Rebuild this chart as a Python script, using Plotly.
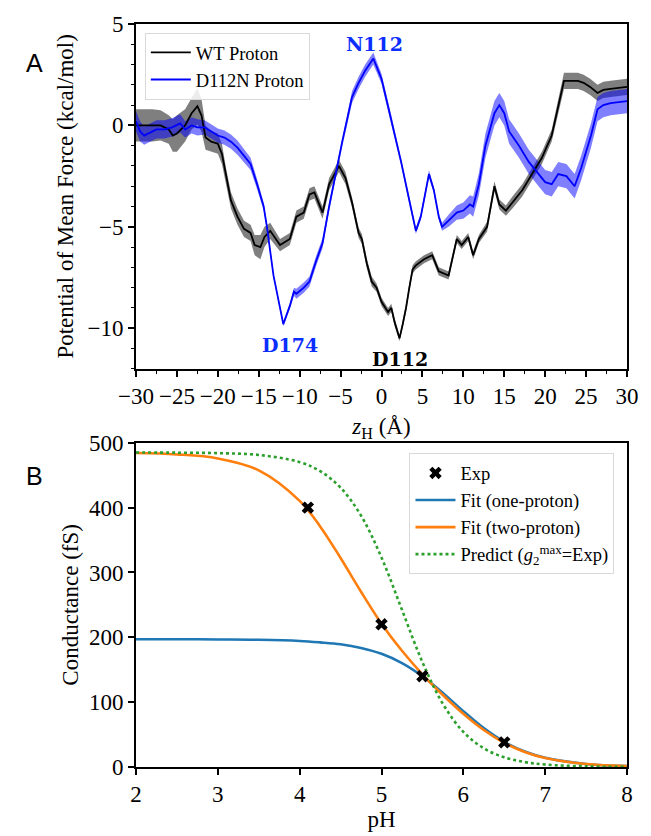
import plotly.graph_objects as go
from plotly.subplots import make_subplots

# ---------------- Panel A data ----------------
wt_z = [-30, -29, -28, -27, -26, -25.5, -25, -24, -23.2, -22.5, -22, -21.5, -20.8, -20, -19.5, -19,
        -18.4, -17.6, -16.8, -16.0, -15.5, -14.8, -14.3, -13.6, -12.4, -11.2, -10.4, -9.5, -8.8, -8.2,
        -7.2, -6.4, -5.2, -4.4, -3.6, -2.8, -2.4, -1.8, -1.2, -0.6, 0, 0.8, 1.2, 1.6, 2.2, 2.6, 3.0,
        3.4, 3.8, 4.2, 5.2, 6.2, 7.0, 8.2, 9.2, 9.8, 10.6, 11.2, 11.9, 12.9, 13.8, 14.4, 15.2, 16.0,
        17.2, 18.4, 19.6, 20.8, 21.6, 22.3, 23.1, 24.0, 24.7, 25.5, 26.4, 27.1, 28.0, 29.0, 30.0]
wt_pmf = [0.0, 0.0, 0.0, 0.0, -0.2, -0.5, -0.4, 0.0, 0.6, 0.95, 0.5, -0.6, -0.8, -0.9, -1.4, -2.5,
          -3.7, -4.5, -5.1, -5.3, -5.9, -6.0, -5.5, -5.2, -5.9, -5.6, -4.5, -4.3, -3.4, -3.3,
          -4.3, -2.9, -2.0, -2.6, -3.8, -5.3, -5.6, -6.8, -7.7, -8.0, -8.7, -9.2, -9.0, -9.7, -10.5, -9.8, -9.0,
          -8.0, -7.1, -6.9, -6.6, -6.4, -7.2, -7.4, -5.6, -5.9, -5.5, -6.4, -5.6, -5.0, -3.0, -3.9, -4.2, -3.8,
          -3.2, -2.4, -1.6, -0.5, 1.0, 2.2, 2.2, 2.2, 2.1, 1.9, 1.6, 1.75, 1.8, 1.85, 1.9]
wt_err = [0.8, 0.8, 0.8, 0.75, 0.7, 0.8, 0.9, 0.8, 0.8, 0.9, 0.8, 0.6, 0.5, 0.5, 0.5, 0.4,
          0.4, 0.4, 0.4, 0.4, 0.5, 0.6, 0.5, 0.4, 0.3, 0.3, 0.3, 0.3, 0.3, 0.3,
          0.3, 0.3, 0.3, 0.3, 0.25, 0.25, 0.25, 0.25, 0.25, 0.2, 0.2, 0.2, 0.2, 0.2, 0.15, 0.15, 0.2,
          0.2, 0.2, 0.2, 0.2, 0.2, 0.2, 0.2, 0.2, 0.2, 0.2, 0.2, 0.2, 0.25, 0.25, 0.25, 0.25, 0.3,
          0.3, 0.3, 0.3, 0.3, 0.35, 0.4, 0.4, 0.4, 0.4, 0.4, 0.4, 0.4, 0.4, 0.4, 0.4]

mut_z = [-30, -29.5, -29, -28, -27.5, -26.5, -25.6, -24.6, -24, -23.2, -22.5, -21.6, -20.8, -20, -19.2,
         -18.4, -17.6, -16.8, -16, -15.2, -14.4, -14, -13.2, -12.0, -11.2, -10.7, -10.4, -9.5, -8.8,
         -8.0, -7.2, -6.4, -5.6, -4.8, -3.6, -2.8, -2.0, -1.0, 0, 1.2, 2.4, 3.4, 4.2, 4.8, 5.8, 6.4,
         7.0, 7.4, 8.2, 9.2, 10.0, 10.8, 11.2, 11.9, 12.7, 13.8, 14.4, 15.0, 15.6, 16.8, 18, 19.2, 20,
         20.8, 21.6, 22.6, 23.6, 24.4, 25.6, 26.4, 27.1, 28.0, 29.0, 30.0]
mut_pmf = [0.2, -0.3, -0.5, -0.3, -0.2, -0.2, -0.1, 0.1, -0.2, 0.0, -0.1, -0.1, -0.3, -0.5, -0.6,
           -0.8, -1.1, -1.5, -1.9, -2.9, -4.0, -5.0, -7.4, -9.8, -8.9, -8.2, -8.3, -8.0, -7.7,
           -6.7, -5.8, -4.0, -2.4, -0.8, 1.4, 2.1, 2.7, 3.3, 2.3, 0.3, -1.8, -3.7, -5.2, -4.5, -2.4, -3.2,
           -4.5, -5.0, -4.7, -4.3, -4.2, -3.9, -4.0, -2.9, -1.0, 0.6, 1.0, 0.6, -0.3, -1.0, -1.8, -2.4, -2.8,
           -2.9, -2.4, -2.5, -3.0, -2.1, -0.5, 0.8, 1.0, 1.1, 1.15, 1.2]
mut_err = [0.5, 0.5, 0.45, 0.45, 0.45, 0.45, 0.45, 0.45, 0.4, 0.4, 0.4, 0.35, 0.35, 0.35, 0.35,
           0.35, 0.35, 0.3, 0.3, 0.25, 0.2, 0.15, 0.1, 0.1, 0.15, 0.2, 0.25, 0.25, 0.25,
           0.25, 0.25, 0.2, 0.2, 0.25, 0.3, 0.3, 0.3, 0.3, 0.25, 0.2, 0.2, 0.2, 0.15, 0.15, 0.2, 0.15,
           0.15, 0.2, 0.3, 0.35, 0.4, 0.45, 0.5, 0.55, 0.6, 0.6, 0.6, 0.6, 0.6, 0.6, 0.6, 0.6, 0.6,
           0.6, 0.6, 0.6, 0.6, 0.6, 0.6, 0.6, 0.6, 0.6, 0.6, 0.6]

site_labels = ["N112", "D174", "D112"]
site_z = [-0.9, -11.2, 2.2]
site_pmf = [4.0, -10.85, -11.5]
site_colors = ["#0a2eff", "#0a2eff", "#000000"]

# ---------------- Panel B data ----------------
exp_ph = [4.1, 5.0, 5.5, 6.5]
exp_g = [400, 220, 140, 38]

fit_ph = [2, 2.5, 3, 3.5, 4, 4.25, 4.5, 4.75, 5, 5.25, 5.5, 5.75, 6, 6.25, 6.5, 6.75, 7, 7.5, 8]
one_proton = [197, 197, 196.7, 196.2, 194.4, 192.2, 189.2, 183.5, 174.5, 160.3, 140, 114.3, 86.1,
              59.9, 38.8, 23.9, 14.2, 4.7, 1.5]
two_proton = [484.1, 482.0, 475.8, 457.5, 410.4, 371, 322.3, 270.3, 221, 179.2, 143, 111.1, 82.1,
              57.0, 37.2, 23.1, 13.8, 4.6, 1.5]
predict = [484.9, 484.7, 484.0, 481.2, 470.1, 456.2, 430.7, 387.7, 323.1, 242.5, 161.7, 97.4, 54.2,
           28.8, 14.9, 7.6, 3.8, 0.97, 0.24]

SERIF = "Liberation Serif, Times New Roman, Times, serif"
BOLD_SERIF = "DejaVu Serif, serif"

fig = make_subplots(rows=2, cols=1, vertical_spacing=0.0)

def band(z, v, e, color):
    up = [a + b for a, b in zip(v, e)]
    lo = [a - b for a, b in zip(v, e)]
    fig.add_trace(go.Scatter(x=z, y=up, mode="lines", line=dict(width=0), showlegend=False,
                             hoverinfo="skip"), row=1, col=1)
    fig.add_trace(go.Scatter(x=z, y=lo, mode="lines", line=dict(width=0), fill="tonexty",
                             fillcolor=color, showlegend=False, hoverinfo="skip"), row=1, col=1)

band(wt_z, wt_pmf, wt_err, "rgba(0,0,0,0.5)")
band(mut_z, mut_pmf, mut_err, "rgba(0,0,255,0.5)")
fig.add_trace(go.Scatter(x=wt_z, y=wt_pmf, mode="lines", name="WT Proton", legendrank=1,
                         line=dict(color="black", width=1.8), legend="legend"), row=1, col=1)
fig.add_trace(go.Scatter(x=mut_z, y=mut_pmf, mode="lines", name="D112N Proton", legendrank=2,
                         line=dict(color="#0000ff", width=1.8), legend="legend"), row=1, col=1)

for lab, zx, zy, c in zip(site_labels, site_z, site_pmf, site_colors):
    fig.add_annotation(x=zx, y=zy, xref="x", yref="y", text="<b>" + lab + "</b>", showarrow=False,
                       font=dict(family=BOLD_SERIF, size=19, color=c))

# Panel B
fig.add_trace(go.Scatter(x=fit_ph, y=one_proton, mode="lines", name="Fit (one-proton)", legendrank=2,
                         line=dict(color="#1f77b4", width=2.6, shape="spline"), legend="legend2"), row=2, col=1)
fig.add_trace(go.Scatter(x=fit_ph, y=two_proton, mode="lines", name="Fit (two-proton)", legendrank=3,
                         line=dict(color="#ff7f0e", width=2.6, shape="spline"), legend="legend2"), row=2, col=1)
fig.add_trace(go.Scatter(x=fit_ph, y=predict, mode="lines", legendrank=4,
                         name="Predict (<i>g</i><sub>2</sub><sup>max</sup>=Exp)",
                         line=dict(color="#2ca02c", width=2.6, dash="dot", shape="spline"),
                         legend="legend2"), row=2, col=1)
fig.add_trace(go.Scatter(x=exp_ph, y=exp_g, mode="markers", name="Exp", legendrank=1,
                         marker=dict(symbol="x", size=11, color="black", line=dict(width=0)),
                         legend="legend2"), row=2, col=1)

axis_common = dict(showline=True, linecolor="black", linewidth=1.6, mirror=True,
                   ticks="outside", ticklen=6, tickwidth=1.6, tickcolor="black",
                   showgrid=False, zeroline=False,
                   tickfont=dict(family=SERIF, size=23, color="black"),
                   title_font=dict(family=SERIF, size=23, color="black"))

fig.update_xaxes(**axis_common)
fig.update_yaxes(**axis_common)

fig.update_xaxes(range=[-30, 30], tickmode="linear", tick0=-30, dtick=5,
                 minor=dict(ticks="outside", ticklen=3.5, tickwidth=1.2, dtick=2.5, tick0=-30, tickcolor="black"),
                 title_text="<i>z</i><sub>H</sub> (Å)", title_standoff=10, row=1, col=1)
fig.update_yaxes(range=[-12, 5], tickmode="array", tickvals=[-10, -5, 0, 5],
                 minor=dict(ticks="outside", ticklen=3.5, tickwidth=1.2, dtick=1, tick0=0, tickcolor="black"),
                 title_text="Potential of Mean Force (kcal/mol)", title_standoff=8, row=1, col=1)
fig.update_xaxes(range=[2, 8], dtick=1, tick0=2, title_text="pH", title_standoff=0, row=2, col=1)
fig.update_yaxes(range=[0, 500], dtick=100, tick0=0, title_text="Conductance (fS)",
                 title_standoff=4, row=2, col=1)

legend_style = dict(xanchor="left", yanchor="top", traceorder="normal", itemwidth=40,
                    bgcolor="rgba(255,255,255,0.85)", bordercolor="#d9d9d9", borderwidth=1,
                    font=dict(family=SERIF, size=18.5, color="black"), tracegroupgap=0)
fig.update_layout(
    width=651, height=836,
    margin=dict(l=136, r=14, t=19, b=54),
    plot_bgcolor="white", paper_bgcolor="white",
    xaxis=dict(domain=[0, 1]), yaxis=dict(domain=[0.536, 1.0]),
    xaxis2=dict(domain=[0, 1]), yaxis2=dict(domain=[0.0, 0.4364]),
    legend=dict(x=0.018, y=0.988, **legend_style),
    legend2=dict(x=0.557, y=0.422, **legend_style),
    showlegend=True,
)

fig.add_annotation(x=-0.2275, y=0.9685, xref="paper", yref="paper", text="A", showarrow=False,
                   font=dict(family="Liberation Sans, Arial, sans-serif", size=25, color="black"))
fig.add_annotation(x=-0.2275, y=0.392, xref="paper", yref="paper", text="B", showarrow=False,
                   font=dict(family="Liberation Sans, Arial, sans-serif", size=25, color="black"))

fig.write_html("out.html")
